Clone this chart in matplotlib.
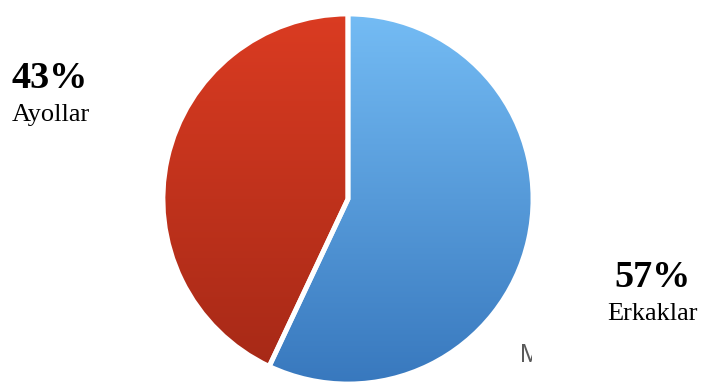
import numpy as np
import matplotlib
matplotlib.use("Agg")
import matplotlib.pyplot as plt
from matplotlib.colors import to_rgb
from matplotlib.patches import Rectangle

# Data
labels = ["Erkaklar", "Ayollar"]
shares = [57, 43]
pct_labels = ["57%", "43%"]

# Gradient colours per slice (top, bottom)
top_colors = ["#76BEF6", "#DC3C22"]
bottom_colors = ["#3676BC", "#A32816"]

W, H = 701, 383
fig = plt.figure(figsize=(W / 100, H / 100), dpi=100)
ax = fig.add_axes([0, 0, 1, 1])

cx, cy, r = 348, H - 199, 185
wedges, _ = ax.pie(shares, startangle=90, counterclock=False,
                   center=(cx, cy), radius=r, explode=[0, 0.033],
                   wedgeprops=dict(facecolor="none", edgecolor="white",
                                   linewidth=3.5, zorder=3))

# Vertical gradient fill clipped to each wedge
n = 256
for w, c0, c1 in zip(wedges, top_colors, bottom_colors):
    t = np.linspace(0, 1, n)[:, None]
    a, b = np.array(to_rgb(c1)), np.array(to_rgb(c0))
    grad = (a[None, :] * (1 - t) + b[None, :] * t)[:, None, :]
    im = ax.imshow(grad, extent=(cx - r - 12, cx + r + 12, cy - r - 12, cy + r + 12),
                   origin="lower", aspect="auto", interpolation="bilinear", zorder=2)
    im.set_clip_path(w)

serif = ["Liberation Serif", "DejaVu Serif"]

# Percentage and category labels
ax.text(50, H - 88, pct_labels[1], ha="center", va="baseline",
        fontsize=27.5, fontweight="bold", family=serif, color="black")
ax.text(51, H - 121, labels[1], ha="center", va="baseline",
        fontsize=19, family=serif, color="black")
ax.text(652.5, H - 287, pct_labels[0], ha="center", va="baseline",
        fontsize=27.5, fontweight="bold", family=serif, color="black")
ax.text(652, H - 320, labels[0], ha="center", va="baseline",
        fontsize=19, family=serif, color="black")

# Partially hidden marker glyph near the bottom right
m = ax.text(520, H - 362, "M", ha="left", va="baseline", fontsize=18,
            family=["Liberation Sans"], color="#5a5a5a")
clip = Rectangle((500, 0), 32, H, transform=ax.transData)
m.set_clip_path(clip)
m.set_clip_on(True)

ax.set_xlim(0, W)
ax.set_ylim(0, H)
ax.set_aspect("equal")
ax.axis("off")

fig.savefig("out.png", dpi=100, facecolor="white")
